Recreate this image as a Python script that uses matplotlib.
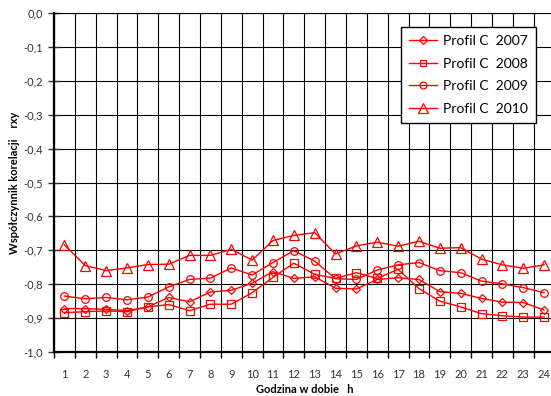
import matplotlib
matplotlib.use("Agg")
import matplotlib.pyplot as plt
from matplotlib.ticker import FixedLocator, FuncFormatter

plt.rcParams["font.family"] = ["Lato", "DejaVu Sans"]

hours = list(range(1, 25))

profil_2007 = [-0.872, -0.872, -0.874, -0.878, -0.867, -0.839, -0.852, -0.823,
               -0.818, -0.797, -0.763, -0.783, -0.778, -0.812, -0.814, -0.786,
               -0.781, -0.786, -0.822, -0.827, -0.842, -0.853, -0.854, -0.876]
profil_2008 = [-0.884, -0.881, -0.879, -0.881, -0.867, -0.860, -0.878, -0.859,
               -0.859, -0.825, -0.780, -0.738, -0.771, -0.783, -0.766, -0.783,
               -0.756, -0.813, -0.850, -0.867, -0.887, -0.893, -0.897, -0.897]
profil_2009 = [-0.835, -0.843, -0.839, -0.846, -0.838, -0.808, -0.786, -0.782,
               -0.752, -0.773, -0.736, -0.701, -0.732, -0.784, -0.786, -0.758,
               -0.743, -0.736, -0.760, -0.766, -0.791, -0.799, -0.810, -0.825]
profil_2010 = [-0.684, -0.745, -0.760, -0.752, -0.742, -0.741, -0.715, -0.715,
               -0.697, -0.729, -0.671, -0.656, -0.648, -0.711, -0.687, -0.676,
               -0.688, -0.673, -0.694, -0.692, -0.726, -0.743, -0.753, -0.743]

series = [
    ("Profil C  2007", profil_2007, "D", 4.2),
    ("Profil C  2008", profil_2008, "s", 5.2),
    ("Profil C  2009", profil_2009, "o", 5.5),
    ("Profil C  2010", profil_2010, "^", 7.5),
]

W, H = 551, 396
fig = plt.figure(figsize=(W / 100, H / 100), dpi=100)
left, right, top, bottom = 54, 554.5, 13, 352
ax = fig.add_axes([left / W, 1 - bottom / H, (right - left) / W, (bottom - top) / H])

for label, vals, mk, ms in series:
    ax.plot(hours, vals, color="#ff0000", lw=1.0, marker=mk, markersize=ms,
            markerfacecolor="none", markeredgecolor="#ff0000", markeredgewidth=0.9,
            label=label, zorder=3)

ax.set_xlim(0.5, 24.5)
ax.set_ylim(-1.0, 0.0)

# category boundaries as major ticks (grid), centres as minor ticks (labels)
ax.xaxis.set_major_locator(FixedLocator([h - 0.5 for h in hours] + [24.5]))
ax.xaxis.set_major_formatter(FuncFormatter(lambda v, p: ""))
ax.xaxis.set_minor_locator(FixedLocator(hours))
ax.xaxis.set_minor_formatter(FuncFormatter(lambda v, p: f"{int(round(v))}"))
ax.tick_params(axis="x", which="major", direction="out", length=4, width=1.0)
ax.tick_params(axis="x", which="minor", length=0, pad=12, labelsize=8)

yt = [-i / 10 for i in range(11)]
ax.yaxis.set_major_locator(FixedLocator(yt))
ax.yaxis.set_major_formatter(
    FuncFormatter(lambda v, p: f"{abs(v):.1f}".replace(".", ",") if abs(v) < 1e-9
                  else f"{v:.1f}".replace(".", ",")))
ax.tick_params(axis="y", direction="inout", length=8, width=1.0, labelsize=8,
               pad=4, colors="#333333")
ax.tick_params(axis="x", which="minor", colors="#333333")

ax.grid(True, which="major", color="black", lw=0.8)
ax.set_axisbelow(True)
for s in ["left", "bottom"]:
    ax.spines[s].set_linewidth(1.6)
ax.spines["top"].set_linewidth(0.8)
ax.spines["right"].set_visible(False)

ax.set_ylabel("Współczynnik korelacji    rxy", fontsize=8, fontweight="bold")
ax.yaxis.set_label_coords(-0.068, 0.5)
ax.set_xlabel("Godzina w dobie   h", fontsize=8, fontweight="bold")
ax.xaxis.set_label_coords(0.5, -0.094)

leg = ax.legend(loc="upper left", bbox_to_anchor=((401 - left) / (right - left),
                1 - (27 - top) / (bottom - top)),
                borderaxespad=0,
                fontsize=10, frameon=True, fancybox=False, edgecolor="black",
                framealpha=1, handlelength=2.0, handletextpad=0.4,
                labelspacing=0.75, borderpad=0.6, markerscale=0.9)
leg.get_frame().set_linewidth(1.0)

fig.savefig("out.png", dpi=100)
